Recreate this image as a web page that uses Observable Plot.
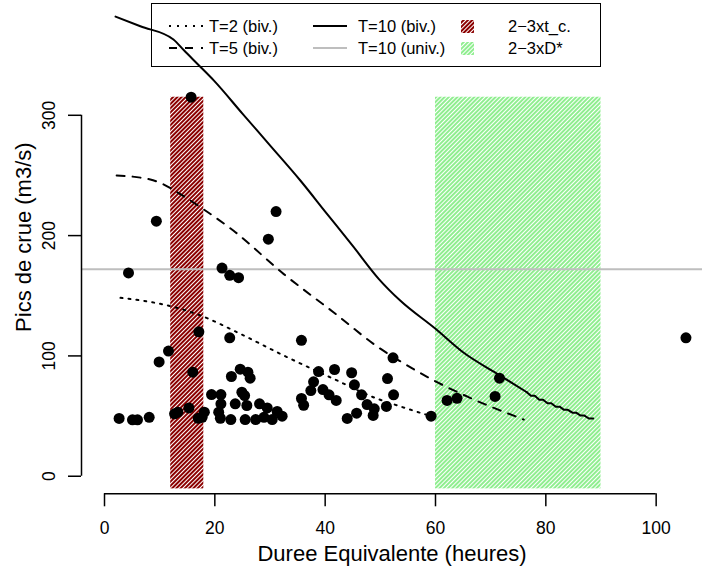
<!DOCTYPE html>
<html><head><meta charset="utf-8">
<script src="https://cdn.jsdelivr.net/npm/d3@7"></script>
<script src="https://cdn.jsdelivr.net/npm/@observablehq/plot@0.6"></script>
<style>
html,body{margin:0;padding:0;background:#fff;overflow:hidden;}
#wrap{position:relative;width:704px;height:569px;font-family:"Liberation Sans",Arial,sans-serif;}
#legend{position:absolute;left:151px;top:3px;width:450px;height:64px;box-sizing:border-box;border:1.5px solid #000;background:transparent;}
.li{position:absolute;display:flex;align-items:center;font-size:16.5px;color:#000;white-space:nowrap;}
.li svg{display:block;}
</style></head><body><div id="wrap"></div>
<script>
// Observed peaks: duration (h) and peak flow (m3/s)
const ptX = [15.7,9.4,31.1,29.7,4.35,21.3,22.7,24.3,17.1,22.7,35.7,11.6,9.9,16.0,52.3,38.8,41.7,44.8,45.3,51.3,52.4,37.9,37.4,39.6,40.7,42.0,46.6,47.6,48.9,48.7,51.1,45.7,44.0,35.7,36.1,24.6,26.0,26.4,23.0,19.4,21.1,24.9,25.4,21.1,23.7,25.8,28.1,29.5,31.3,20.7,15.3,12.7,13.3,18.1,17.0,17.7,21.0,22.9,25.5,27.4,28.9,30.4,32.2,2.65,5.07,5.98,8.1,105.4,59.2,62.1,63.9,70.8,71.6];
const ptY = [315,212,220,197,169,173,167,165,120,115,113,104,95,86.5,98.4,87,88.7,86,76,81.2,67.7,78.5,71.2,72,67.7,63,67.7,59.6,56,50.5,58,52.4,48,64.6,59,89,86.5,81.5,82.9,67.9,67.9,69.8,67,60.2,60.2,58.8,60.2,56.8,53.8,53.2,56.8,51.9,53.2,53.2,48.2,49,48.2,47.1,47.1,47.1,49,47.1,49.9,48,46.9,46.9,49,115,49.9,63,64.8,66.3,81.5];

// Bivariate quantile curves
const t2X  = [2.9,10.1,12.3,17.4,24.6,32.5,41.5,49.4,53.3,59.1];
const t2Y  = [148.3,143.3,141,133.6,118.4,100.3,81,64.5,58.5,50];
const t5X  = [2.2,8.3,10.5,13.2,17.4,23.4,32.5,41.5,50,53.6,59.7,65.7,76];
const t5Y  = [250,246.6,243,236,223.6,204,168,136.3,106,95.6,79.6,66.3,47.1];
const t10X = [2.0,6.5,12.5,14.4,17,19.8,25,30,35.5,40,45,49.7,53.6,60,65,71.6,76.5];
const t10Y = [382,374,363,354,342,329,301.4,275,245.8,220,191.4,164.1,146,122.5,103,84,70];
// jagged (saw-tooth) tail of the T=10 curve
const t10TailX = [76.5,77.3,78,78.8,79.5,80.3,81,81.8,82.5,83.3,84,84.8,85.5,86.3,87,87.8,88.6];
const t10TailY = [70,66.8,66.8,63.6,63.6,60.6,60.6,57.8,57.8,55.2,55.2,52.8,52.8,50.4,50.4,48,48];
// Univariate T=10 level
const univT10 = [172];

// Duration bands
const bandNames = ["2−3xt_c.","2−3xD*"];
const bandX1 = [12,60];
const bandX2 = [18,90];
const bandYlo = [-10.5,-10.5];
const bandYhi = [315,315];

// Axes
const xTicks = [0,20,40,60,80,100];
const yTicks = [0,100,200,300];
const xUsr = [-4.17,108.4];
const yUsr = [-14.6,395.4];
const xTitle = "Duree Equivalente (heures)";
const yTitle = "Pics de crue (m3/s)";

// Legend
const legendLabels = ["T=2 (biv.)","T=5 (biv.)","T=10 (biv.)","T=10 (univ.)","2−3xt_c.","2−3xD*"];

const points = ptX.map((x,i)=>({x, y:ptY[i]}));
const mk = (xs,ys)=>xs.map((x,i)=>({x,y:ys[i]}));
const bands = bandNames.map((n,i)=>({n, x1:bandX1[i], x2:bandX2[i], y1:bandYlo[i], y2:bandYhi[i], pat: i===0?"url(#hatchRed)":"url(#hatchGreen)"}));

const FONT = "Liberation Sans, Arial, sans-serif";
const chart = Plot.plot({
  width:704, height:569,
  marginLeft:81, marginRight:2, marginTop:0, marginBottom:75.7,
  x:{domain:xUsr, axis:null},
  y:{domain:yUsr, axis:null},
  style:{fontFamily:FONT, background:"white", color:"black", overflow:"visible"},
  marks:[
    Plot.rect(bands,{x1:"x1",x2:"x2",y1:"y1",y2:"y2",fill:"pat"}),
    Plot.ruleY(univT10,{stroke:"#BEBEBE",strokeWidth:2}),
    Plot.line(mk(t2X,t2Y),{x:"x",y:"y",stroke:"black",strokeWidth:2,strokeDasharray:"2,6",curve:"monotone-x"}),
    Plot.line(mk(t5X,t5Y),{x:"x",y:"y",stroke:"black",strokeWidth:2,strokeDasharray:"8,8",curve:"monotone-x"}),
    Plot.line(mk(t10X,t10Y),{x:"x",y:"y",stroke:"black",strokeWidth:2,curve:"monotone-x"}),
    Plot.line(mk(t10TailX,t10TailY),{x:"x",y:"y",stroke:"black",strokeWidth:2}),
    Plot.dot(points,{x:"x",y:"y",r:5.5,fill:"black",stroke:null}),
    Plot.ruleY([yUsr[0]],{x1:xTicks[0],x2:xTicks[xTicks.length-1],stroke:"black",strokeWidth:1.5}),
    Plot.ruleX([xUsr[0]],{y1:yTicks[0],y2:yTicks[yTicks.length-1],stroke:"black",strokeWidth:1.5}),
    Plot.axisX({ticks:xTicks,tickSize:13,tickPadding:15,fontSize:17.5,strokeWidth:1.5,tickFormat:d=>String(d)}),
    Plot.axisY({ticks:yTicks,tickSize:13,strokeWidth:1.5,tickFormat:()=>null}),
    Plot.text(yTicks,{frameAnchor:"left",y:d=>d,text:d=>String(d),rotate:-90,dx:-32,fontSize:17.5,textAnchor:"middle",lineAnchor:"middle"}),
    Plot.text([xTitle],{frameAnchor:"bottom",text:d=>d,dy:60,fontSize:22,textAnchor:"middle",lineAnchor:"middle"}),
    Plot.text([yTitle],{frameAnchor:"left",text:d=>d,rotate:-90,dx:-58,dy:-10,fontSize:22,textAnchor:"middle",lineAnchor:"middle"})
  ]
});

// hatch patterns
const ns = "http://www.w3.org/2000/svg";
const defs = document.createElementNS(ns,"defs");
defs.innerHTML = `
<pattern id="hatchRed" patternUnits="userSpaceOnUse" width="3" height="3" patternTransform="rotate(45)">
  <rect width="3" height="3" fill="#8B0000"/><rect width="1" height="3" fill="#ffffff"/></pattern>
<pattern id="hatchGreen" patternUnits="userSpaceOnUse" width="3" height="3" patternTransform="rotate(45)">
  <rect width="3" height="3" fill="#90EE90"/><rect width="1" height="3" fill="#ffffff"/></pattern>`;
chart.insertBefore(defs, chart.firstChild);

const wrap = document.getElementById("wrap");
wrap.appendChild(chart);

// legend overlay
const lg = document.createElement("div");
lg.id = "legend";
wrap.appendChild(lg);
const colSample = [167,312,460];
const colText = [208,357,507];
const rowY = [25,47];
const samples = [
  `<svg width="36" height="6"><line x1="1" y1="3" x2="35" y2="3" stroke="#000" stroke-width="2" stroke-dasharray="2,6"/></svg>`,
  `<svg width="36" height="6"><line x1="1" y1="3" x2="35" y2="3" stroke="#000" stroke-width="2" stroke-dasharray="8,8"/></svg>`,
  `<svg width="36" height="6"><line x1="0" y1="3" x2="34" y2="3" stroke="#000" stroke-width="2"/></svg>`,
  `<svg width="36" height="6"><line x1="0" y1="3" x2="34" y2="3" stroke="#BEBEBE" stroke-width="2"/></svg>`,
  `<svg width="13" height="13"><rect width="13" height="13" fill="url(#hatchRed)"/></svg>`,
  `<svg width="13" height="13"><rect width="13" height="13" fill="url(#hatchGreen)"/></svg>`
];
legendLabels.forEach((lab,i)=>{
  const c = Math.floor(i/2), r = i%2;
  const s = document.createElement("div");
  s.className="li"; s.style.left=(colSample[c]-151)+"px"; s.style.top=(rowY[r]-3-(c===2?6.5:3))+"px";
  s.innerHTML = samples[i];
  lg.appendChild(s);
  const t = document.createElement("div");
  t.className="li"; t.style.left=(colText[c]-151)+"px"; t.style.top=(rowY[r]-3-10)+"px"; t.style.height="20px";
  t.textContent = lab;
  lg.appendChild(t);
});
</script></body></html>
